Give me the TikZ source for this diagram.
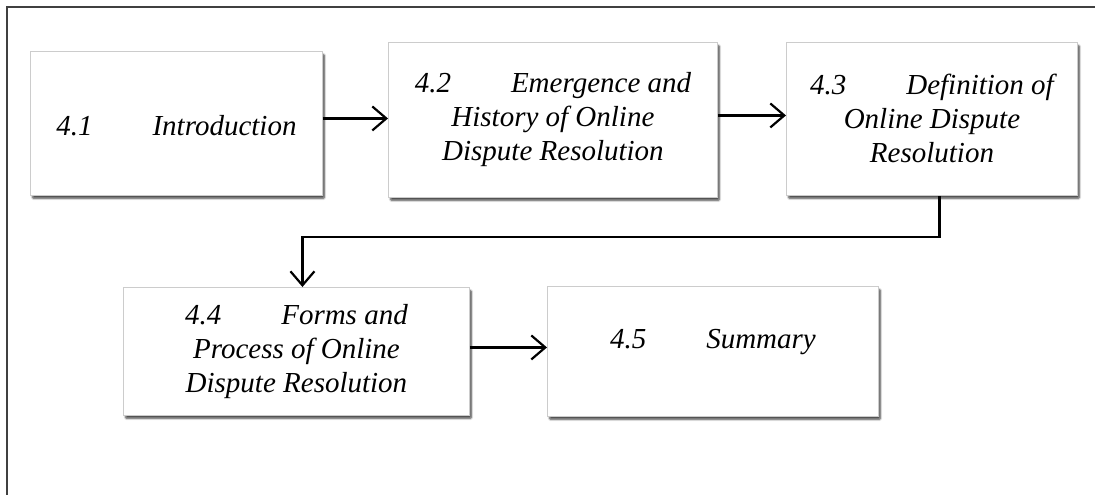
\documentclass[tikz,border=0pt]{standalone}
\usepackage{fontspec}
\setmainfont{Liberation Serif}
\usetikzlibrary{arrows.meta,shadows.blur}
\tikzset{
  box/.style={rectangle, anchor=north west, draw=gray!40, line width=0.9pt, fill=white,
    blur shadow={shadow xshift=2pt, shadow yshift=-3pt, shadow blur steps=6, shadow blur extra rounding=1pt, shadow opacity=70},
    align=center, inner sep=0pt, font=\fontsize{29}{34}\selectfont\itshape},
  arr/.style={line width=2.2pt, -{Straight Barb[length=14pt,width=24pt,line width=2.2pt]}},
  frame/.style={line width=1.3pt, draw=gray!50!black}
}
\newcommand{\gap}{\hspace{60pt}}
\begin{document}
\begin{tikzpicture}[x=1pt,y=-1pt]
\useasboundingbox (0,0) rectangle (1095,495);
\draw[frame] (7,495) -- (7,7) -- (1095,7);
\node[box, minimum width=292pt, minimum height=144pt] (b1) at (30,51) {\raisebox{-12pt}[0pt][0pt]{4.1\gap Introduction}};
\node[box, minimum width=329pt, minimum height=155pt] (b2) at (388,42) {4.2\gap Emergence and\\History of Online\\Dispute Resolution};
\node[box, minimum width=291pt, minimum height=153pt] (b3) at (786,42) {4.3\gap Definition of\\Online Dispute\\Resolution};
\node[box, minimum width=346pt, minimum height=128pt] (b4) at (123,287) {4.4\gap Forms and\\Process of Online\\Dispute Resolution};
\node[box, minimum width=331pt, minimum height=130pt] (b5) at (547,286) {\raisebox{3pt}[0pt][0pt]{4.5\gap Summary}};
\draw[arr] ([yshift=5pt]b1.east) -- ([yshift=5pt]b1.east -| b2.west);
\draw[arr] ([yshift=4.5pt]b2.east) -- ([yshift=4.5pt]b2.east -| b3.west);
\draw[arr] ([xshift=7.5pt]b3.south) -- ++(0,41) -| ([xshift=6pt]b4.north);
\draw[arr] ([yshift=4pt]b4.east) -- ([yshift=4pt]b4.east -| b5.west);
\end{tikzpicture}
\end{document}
